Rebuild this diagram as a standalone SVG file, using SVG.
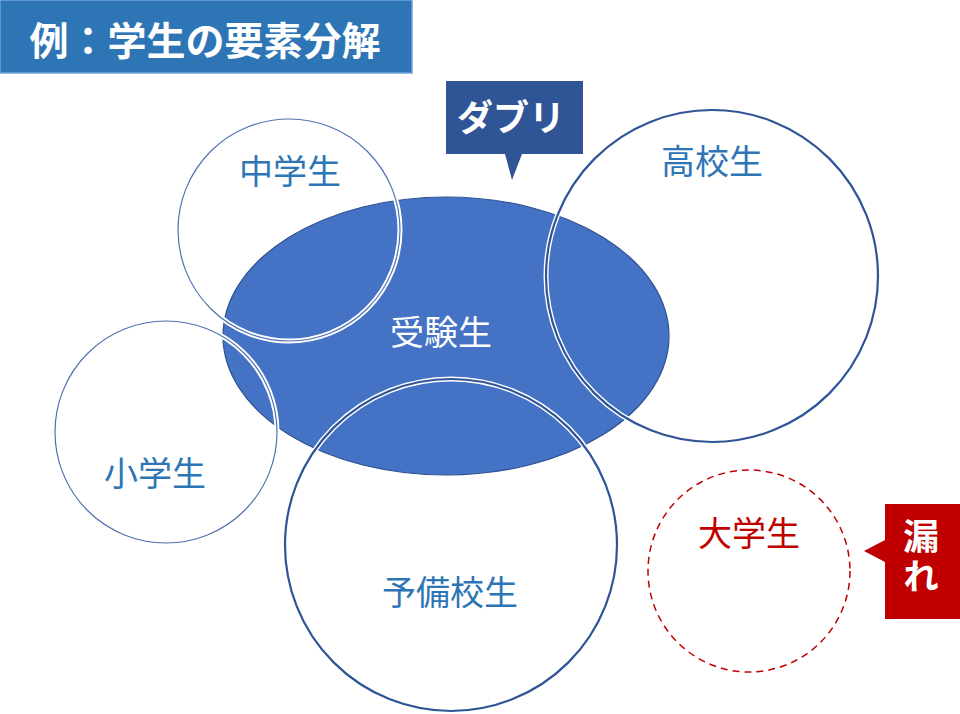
<svg xmlns="http://www.w3.org/2000/svg" width="960" height="714" viewBox="0 0 960 714">
<style>
  text { font-family: "Noto Sans CJK JP", "Noto Sans CJK SC", sans-serif; text-anchor: middle; }
  .lbl { font-size: 34px; fill: #2E75B6; }
  .white { fill: #FFFFFF; }
  .bold { font-weight: bold; fill: #FFFFFF; }
  .halo { fill: none; stroke: #FFFFFF; stroke-width: 5; }
  .thin { fill: none; stroke: #4F72B0; stroke-width: 1.2; }
  .thick { fill: none; stroke: #2F5597; stroke-width: 2.2; }
</style>
<rect width="960" height="714" fill="#FFFFFF"/>

<g id="title">
  <rect x="0" y="0" width="412" height="73" fill="#2E75B6" stroke="#6FA3DA" stroke-width="1.5"/>
  <text x="205" y="55" class="bold" style="font-size:39px">例：学生の要素分解</text>
</g>

<g id="juken">
  <ellipse cx="446" cy="336" rx="223" ry="139" fill="#4472C4" stroke="#2F528F" stroke-width="1.2"/>
  <text x="441" y="345" class="white" style="font-size:34px">受験生</text>
</g>

<g id="chugakusei">
  <circle cx="289" cy="230" r="111" class="halo"/>
  <circle cx="289" cy="230" r="111" class="thin"/>
  <text x="290" y="184" class="lbl">中学生</text>
</g>

<g id="shogakusei">
  <circle cx="166" cy="432" r="111" class="halo"/>
  <circle cx="166" cy="432" r="111" class="thin"/>
  <text x="155" y="486" class="lbl">小学生</text>
</g>

<g id="kokosei">
  <circle cx="712" cy="276" r="166" class="halo"/>
  <circle cx="712" cy="276" r="166" class="thick"/>
  <text x="712" y="174" class="lbl">高校生</text>
</g>

<g id="yobikosei">
  <circle cx="451" cy="545" r="166" class="halo"/>
  <circle cx="451" cy="545" r="166" class="thick"/>
  <text x="450" y="605" class="lbl">予備校生</text>
</g>

<g id="daigakusei">
  <circle cx="749" cy="571" r="101" fill="none" stroke="#C00000" stroke-width="1.5" stroke-dasharray="7 5"/>
  <text x="749" y="546" style="font-size:34px; fill:#C00000">大学生</text>
</g>

<g id="callout-daburi">
  <path d="M446,81 H583 V154 H522 L512,180 L505,154 H446 Z" fill="#2F5597"/>
  <text x="511" y="131" class="bold" style="font-size:36px">ダブリ</text>
</g>

<g id="callout-more">
  <path d="M885,504 H960 V619 H885 V562 L864,551 L885,540 Z" fill="#C00000"/>
  <text x="921" y="558" class="bold" writing-mode="vertical-rl" style="font-size:36px; letter-spacing:4px">漏れ</text>
</g>

<g id="connectors"></g>
</svg>
